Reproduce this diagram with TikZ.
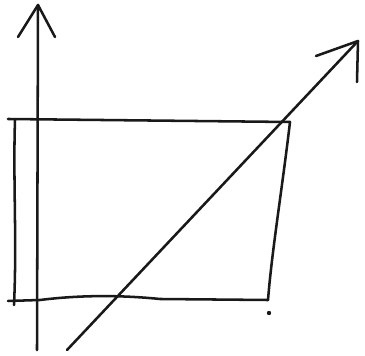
\documentclass[tikz,border=0pt]{standalone}
\begin{document}
\begin{tikzpicture}
% hand sketch: axis, box and a diagonal ray
\def\pxsz{0.75pt}
\providecommand{\sketchLineColor}{black!90}
\providecommand{\sketchLineWidth}{1.9pt}
\begin{scope}[x=\pxsz, y=-\pxsz, line cap=round, line join=round]
  \useasboundingbox (0,0) rectangle (365,356);
  \begin{scope}[draw=\sketchLineColor, line width=\sketchLineWidth]
    % Vertical axis with open head
    \coordinate (axisfoot) at (37,350);
    \coordinate (axistip) at (38,5);
    \draw (axisfoot) -- (axistip);
    \draw (18,37) -- (axistip) -- (55,37);
    % Box (right side leans in)
    \coordinate (boxtl) at (15,120);
    \coordinate (boxtr) at (290,122);
    \coordinate (boxbr) at (268,300);
    \coordinate (boxbl) at (15,300);
    \draw (8,119) -- (boxtr);
    \draw (boxtr) .. controls (282,190) and (272,250) .. (boxbr);
    \draw (8,301) -- (40,300) .. controls (80,295) and (120,295) .. (160,299) -- (boxbr);
    \draw (boxtl) .. controls (13,180) and (17,240) .. (14,305);
    \fill[\sketchLineColor] (269,313) circle (2.2);
    % Diagonal ray with open head
    \coordinate (rayfoot) at (67,350);
    \coordinate (raytip) at (358,41);
    \draw (rayfoot) -- (raytip);
    \draw (316,56) -- (raytip) -- (357,82);
  \end{scope}
\end{scope}
\end{tikzpicture}
\end{document}
